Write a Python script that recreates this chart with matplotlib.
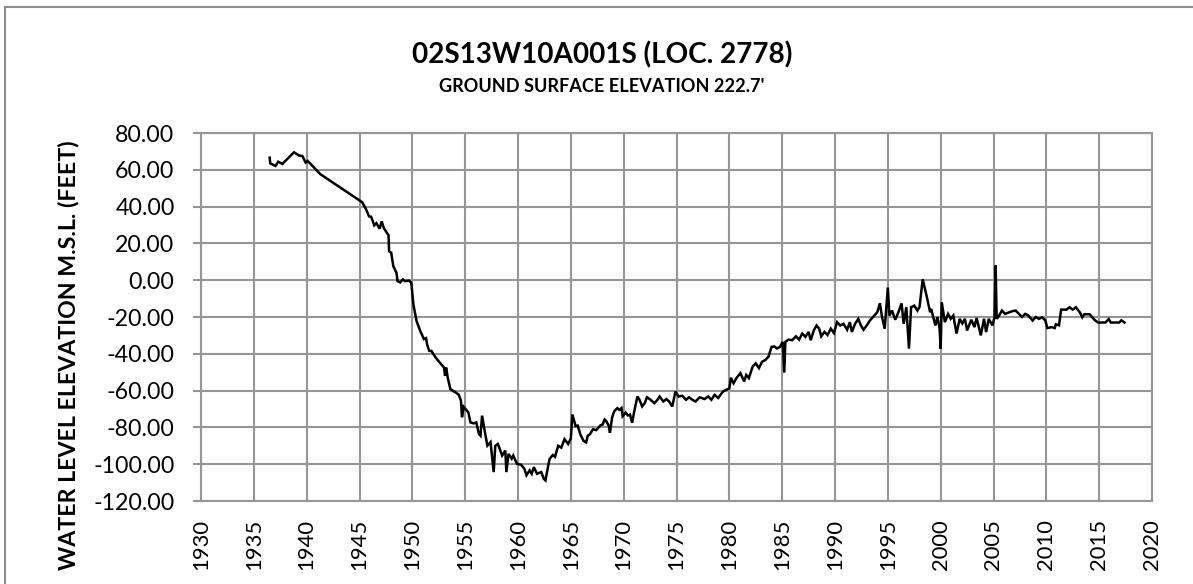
import matplotlib
matplotlib.use("Agg")
import matplotlib.pyplot as plt
from matplotlib.patches import Rectangle
import numpy as np

years = [
    1936.5, 1936.55, 1937.05, 1937.3, 1937.7, 1938.8, 1939.3, 1939.6, 1939.9, 1940.1,
    1941.3, 1945.25, 1945.6, 1945.9, 1946.1, 1946.4, 1946.6, 1946.9, 1947.1, 1947.3,
    1947.75, 1947.8, 1948.0, 1948.2, 1948.5, 1948.6, 1948.85, 1949.1, 1949.3, 1949.7,
    1949.9, 1950.1, 1950.4, 1950.75, 1951.1, 1951.3, 1951.4, 1951.6, 1951.8, 1952.2,
    1952.6, 1953.0, 1953.1, 1953.2, 1953.35, 1953.6, 1954.1, 1954.4, 1954.6, 1954.7,
    1954.85, 1955.3, 1955.5, 1955.8, 1956.05, 1956.3, 1956.45, 1956.6, 1956.9, 1957.1,
    1957.4, 1957.7, 1957.85, 1958.1, 1958.5, 1958.8, 1958.9, 1959.1, 1959.4, 1959.55,
    1959.9, 1960.3, 1960.6, 1960.8, 1961.1, 1961.3, 1961.5, 1961.8, 1962.2, 1962.45,
    1962.6, 1962.85, 1963.0, 1963.3, 1963.5, 1963.8, 1964.1, 1964.4, 1964.75, 1965.0,
    1965.15, 1965.45, 1965.65, 1965.9, 1966.2, 1966.45, 1966.6, 1966.8, 1967.1, 1967.4,
    1967.8, 1968.0, 1968.2, 1968.35, 1968.6, 1968.7, 1968.9, 1969.1, 1969.4, 1969.6,
    1969.8, 1969.9, 1970.2, 1970.4, 1970.6, 1970.8, 1971.0, 1971.3, 1971.5, 1971.75,
    1972.0, 1972.2, 1972.55, 1972.9, 1973.2, 1973.4, 1973.75, 1974.05, 1974.3, 1974.6,
    1974.9, 1975.2, 1975.55, 1975.9, 1976.2, 1976.5, 1976.8, 1977.2, 1977.65, 1978.0,
    1978.3, 1978.6, 1978.95, 1979.4, 1979.7, 1980.0, 1980.15, 1980.4, 1980.7, 1981.05,
    1981.4, 1981.6, 1981.85, 1982.2, 1982.5, 1982.8, 1983.1, 1983.4, 1983.7, 1984.0,
    1984.25, 1984.5, 1984.8, 1985.05, 1985.2, 1985.3, 1985.6, 1985.95, 1986.3, 1986.6,
    1986.9, 1987.2, 1987.5, 1987.7, 1988.0, 1988.25, 1988.5, 1988.7, 1989.0, 1989.3,
    1989.6, 1989.9, 1990.2, 1990.5, 1990.8, 1991.15, 1991.4, 1991.6, 1991.9, 1992.2,
    1992.45, 1992.7, 1993.0, 1993.3, 1993.6, 1994.0, 1994.25, 1994.45, 1994.7, 1995.0,
    1995.15, 1995.4, 1995.7, 1996.0, 1996.3, 1996.5, 1996.75, 1997.0, 1997.2, 1997.5,
    1997.8, 1998.0, 1998.3, 1998.7, 1999.0, 1999.1, 1999.5, 1999.7, 1999.9, 2000.0,
    2000.1, 2000.4, 2000.7, 2000.95, 2001.2, 2001.5, 2001.8, 2002.05, 2002.3, 2002.5,
    2002.9, 2003.2, 2003.4, 2003.8, 2004.1, 2004.3, 2004.55, 2004.9, 2005.1, 2005.2,
    2005.3, 2005.5, 2005.8, 2006.1, 2006.5, 2006.8, 2007.1, 2007.4, 2007.7, 2008.0,
    2008.3, 2008.7, 2009.0, 2009.3, 2009.6, 2009.9, 2010.1, 2010.5, 2010.8, 2010.9,
    2011.2, 2011.4, 2011.9, 2012.2, 2012.5, 2012.8, 2013.2, 2013.4, 2013.6, 2014.1,
    2014.6, 2014.9, 2015.3, 2015.6, 2015.9, 2016.1, 2016.5, 2016.9, 2017.1, 2017.4,
]

levels = [
    66.6, 63.5, 62.1, 64.4, 63.2, 69.5, 67.7, 67.5, 63.9, 64.8,
    57.6, 42.4, 38.8, 34.7, 34.5, 29.8, 31.0, 28.0, 32.0, 28.3,
    24.4, 15.7, 15.0, 7.6, 4.0, -0.5, -1.2, 0.4, -0.5, -0.2,
    -1.4, -13.2, -22.2, -27.6, -32.0, -31.5, -35.0, -38.4, -38.4, -42.0,
    -44.8, -47.5, -52.0, -47.5, -53.0, -59.2, -61.0, -62.3, -65.5, -74.5,
    -68.8, -71.8, -77.3, -77.8, -77.3, -83.6, -84.5, -73.6, -83.6, -89.9,
    -88.0, -104.3, -90.0, -89.0, -95.3, -92.6, -104.3, -94.4, -97.0, -95.3,
    -99.8, -100.3, -102.5, -106.0, -103.3, -105.2, -101.6, -105.2, -104.3, -108.0,
    -108.8, -101.0, -97.0, -95.0, -96.0, -90.0, -91.0, -86.4, -89.0, -86.0,
    -73.0, -79.3, -79.0, -83.8, -87.3, -88.2, -84.5, -83.8, -81.0, -81.5,
    -78.9, -78.5, -75.7, -76.5, -79.3, -82.9, -74.8, -71.3, -69.5, -70.5,
    -69.5, -73.9, -72.0, -73.5, -73.0, -77.5, -71.3, -63.2, -65.0, -68.6,
    -66.8, -63.6, -65.0, -66.8, -65.0, -63.2, -65.9, -64.6, -65.9, -68.6,
    -60.5, -63.2, -62.8, -65.0, -63.6, -65.0, -65.9, -63.6, -64.6, -63.2,
    -65.0, -62.3, -64.0, -60.5, -59.6, -58.8, -53.0, -56.0, -53.0, -50.5,
    -55.0, -51.5, -53.2, -47.0, -45.2, -47.8, -44.3, -43.4, -41.6, -36.2,
    -36.0, -37.1, -36.2, -33.5, -50.2, -33.5, -32.3, -32.6, -30.5, -32.3,
    -29.0, -30.8, -28.1, -32.6, -27.2, -24.6, -26.3, -30.5, -28.1, -29.8,
    -26.3, -28.7, -22.8, -24.6, -23.7, -26.9, -22.8, -28.1, -23.7, -21.0,
    -24.6, -26.9, -24.6, -21.9, -20.0, -17.4, -12.5, -20.0, -26.4, -4.0,
    -19.2, -16.5, -21.5, -17.4, -12.6, -23.7, -14.7, -37.2, -14.7, -13.8,
    -16.5, -14.5, 0.5, -9.3, -17.4, -15.6, -24.6, -20.0, -26.4, -37.2,
    -12.0, -22.8, -18.3, -21.0, -19.2, -29.0, -21.0, -23.5, -21.0, -27.3,
    -21.5, -25.5, -20.5, -30.0, -21.0, -28.2, -21.0, -24.6, -20.0, 8.0,
    -21.0, -19.5, -16.5, -18.3, -17.4, -16.8, -16.5, -18.3, -20.0, -18.3,
    -19.2, -21.9, -20.0, -21.0, -20.2, -21.8, -26.0, -25.5, -26.0, -24.0,
    -24.5, -16.0, -16.0, -14.7, -16.0, -14.7, -17.7, -20.2, -18.5, -18.5,
    -21.8, -23.0, -23.0, -23.0, -21.1, -23.0, -23.0, -23.0, -21.8, -23.0,
]

x_ticks = list(range(1930, 2021, 5))
y_ticks = list(range(-120, 81, 20))

title = "02S13W10A001S (LOC. 2778)"
subtitle = "GROUND SURFACE ELEVATION 222.7'"
ylabel = "WATER LEVEL ELEVATION M.S.L. (FEET)"

W, H = 1193, 584
plt.rcParams['font.family'] = ['Lato', 'DejaVu Sans']
fig = plt.figure(figsize=(W / 100, H / 100), dpi=100)

grid_c = '#969696'
ax = fig.add_axes([201 / W, 1 - 501 / H, (1152 - 201) / W, (501 - 133) / H])
ax.plot(years, levels, color='black', lw=1.8, solid_joinstyle='miter')
ax.set_xlim(1930, 2020)
ax.set_ylim(-120, 80)
ax.set_xticks(x_ticks)
ax.set_yticks(y_ticks)
ax.set_xticklabels([str(t) for t in x_ticks], rotation=90)
ax.set_yticklabels([f"{t:.2f}" for t in y_ticks])
ax.grid(True, color=grid_c, lw=1.5)
ax.set_axisbelow(True)
for s in ax.spines.values():
    s.set_color(grid_c)
    s.set_linewidth(1.5)
ax.tick_params(axis='y', length=6, width=1.5, color=grid_c, pad=13, labelsize=16)
ax.tick_params(axis='x', length=0, pad=13, labelsize=16)

t1 = fig.text(602 / W, 1 - 55 / H, title, ha='center', va='center', fontweight='bold', fontsize=18)
t2 = fig.text(602 / W, 1 - 87 / H, subtitle, ha='center', va='center', fontweight='bold', fontsize=11)
t3 = fig.text(69 / W, 1 - 355 / H, ylabel, ha='center', va='center', rotation=90, fontweight='bold', fontsize=15)

# fit font sizes to measured extents
fig.canvas.draw()
r = fig.canvas.get_renderer()
def fit(t, target, vertical=False):
    bb = t.get_window_extent(r)
    cur = bb.height if vertical else bb.width
    t.set_fontsize(t.get_fontsize() * target / cur)
fit(t1, 381)
fit(t2, 325)
fit(t3, 428, vertical=True)
probe = fig.text(0, 0, "-120.00", fontsize=16)
bb = probe.get_window_extent(r)
ysz = 16 * 81 / bb.width
probe.set_text("1930")
bb = probe.get_window_extent(r)
xsz = 16 * 51 / bb.width
probe.remove()
ax.tick_params(axis='y', labelsize=ysz)
ax.tick_params(axis='x', labelsize=xsz)

fig.patches.append(Rectangle((5 / W, -0.1), 1.2, 1 - 7 / H + 0.1, transform=fig.transFigure,
                             fill=False, edgecolor='#8c8c8c', lw=1.5))

fig.savefig('out.png', dpi=100)
